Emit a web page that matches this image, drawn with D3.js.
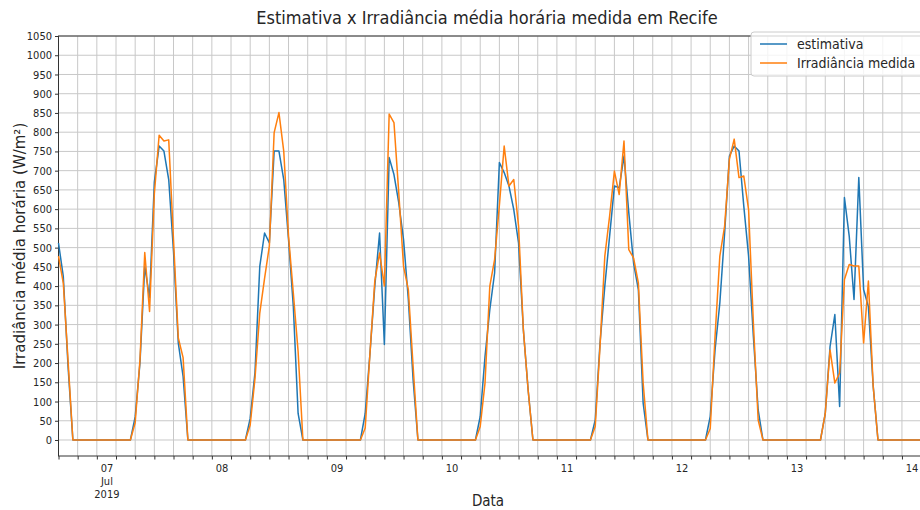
<!DOCTYPE html>
<html>
<head>
<meta charset="utf-8">
<script src="https://cdn.jsdelivr.net/npm/d3@7"></script>
<style>
  html, body { margin: 0; padding: 0; background: #fff; }
  svg { display: block; }
  text { font-family: "DejaVu Sans Condensed", "Liberation Sans Narrow", "DejaVu Sans", sans-serif; fill: #262626; }
</style>
</head>
<body>
<svg id="chart" width="920" height="510"></svg>
<script>
// ---- DATA (hourly, starting 2019-07-06 14:00) ----
const startTime = [2019, 6, 6, 14]; // year, month(0-based), day, hour
const estimativa = [
  512,425,190, 0,0,0,0,0,0,0,0,0,0,0,0,0, 60,200,451,370,670,764,751,677,
  490,252,165, 0,0,0,0,0,0,0,0,0,0,0,0,0, 56,175,451,538,512,751,751,677,
  521,347,69,  0,0,0,0,0,0,0,0,0,0,0,0,0, 69,226,400,538,248,734,690,617,
  521,365,156, 0,0,0,0,0,0,0,0,0,0,0,0,0, 61,217,339,434,721,695,660,599,
  512,287,130, 0,0,0,0,0,0,0,0,0,0,0,0,0, 52,252,400,530,660,656,738,591,
  460,391,96,  0,0,0,0,0,0,0,0,0,0,0,0,0, 61,234,356,538,738,764,751,608,
  478,269,78,  0,0,0,0,0,0,0,0,0,0,0,0,0, 69,243,326,87,630,530,365,682,
  391,347,140, 0,0,0,0,0,0,0,0,0,0,0
];
const irradianciaMedida = [
  478,408,205, 0,0,0,0,0,0,0,0,0,0,0,0,0, 45,208,487,334,640,792,777,780,
  520,265,214, 0,0,0,0,0,0,0,0,0,0,0,0,0, 39,160,330,420,504,799,851,751,
  530,382,230, 0,0,0,0,0,0,0,0,0,0,0,0,0, 31,226,413,486,400,847,825,643,
  451,391,191, 0,0,0,0,0,0,0,0,0,0,0,0,0, 35,148,400,469,610,764,660,677,
  556,287,130, 0,0,0,0,0,0,0,0,0,0,0,0,0, 35,243,478,582,699,638,777,495,
  473,408,148, 0,0,0,0,0,0,0,0,0,0,0,0,0, 30,269,478,556,730,782,682,686,
  599,304,52,  0,0,0,0,0,0,0,0,0,0,0,0,0, 69,234,148,174,417,456,452,452,
  252,413,140, 0,0,0,0,0,0,0,0,0,0,0
];
const seriesNames = ["estimativa", "Irradiância medida"];
const seriesColors = ["#1f77b4", "#ff7f0e"];
const yTicks = d3.range(0, 1051, 50);
const title = "Estimativa x Irradiância média horária medida em Recife";
const xLabel = "Data";
const yLabel = "Irradiância média horária (W/m²)";

// ---- BUILD ----
const t0 = new Date(startTime[0], startTime[1], startTime[2], startTime[3]);
const times = estimativa.map((_, i) => d3.timeHour.offset(t0, i));
const tEnd = times[times.length - 1];

const svg = d3.select("#chart");
const L = 58.5, R = 925.9, T = 36, B = 456;
const condensed = '"DejaVu Sans Condensed", "Liberation Sans Narrow", "DejaVu Sans", sans-serif';

const x = d3.scaleTime().domain([t0, tEnd]).range([L, R]);
const y = d3.scaleLinear().domain([-41.6, 1050]).range([B, T]);

const gridColor = "#c8c8c8";

// grid: 4-hour steps from the start
const hourTicks = d3.timeHour.range(t0, d3.timeHour.offset(tEnd, 1), 4);
svg.append("g").selectAll("line").data(hourTicks).join("line")
  .attr("x1", d => x(d)).attr("x2", d => x(d))
  .attr("y1", T).attr("y2", B)
  .attr("stroke", gridColor).attr("stroke-width", 1);
svg.append("g").selectAll("line").data(yTicks).join("line")
  .attr("x1", L).attr("x2", R)
  .attr("y1", d => y(d)).attr("y2", d => y(d))
  .attr("stroke", gridColor).attr("stroke-width", 1);

// y axis
const yAxis = d3.axisLeft(y).tickValues(yTicks).tickSize(3.5).tickPadding(3).tickFormat(d3.format("d"));
const gy = svg.append("g").attr("transform", `translate(${L},0)`).call(yAxis);
gy.select(".domain").remove();
gy.selectAll(".tick line").attr("stroke", "#333");
gy.selectAll("text").attr("font-size", 11).attr("fill", "#262626").style("font-family", condensed);

// x axis: minor ticks every 4 h, day labels
const xMinor = d3.axisBottom(x).tickValues(hourTicks).tickSize(3.5).tickFormat("");
const gxm = svg.append("g").attr("transform", `translate(0,${B})`).call(xMinor);
gxm.select(".domain").remove();
gxm.selectAll(".tick line").attr("stroke", "#333");

const days = d3.timeDay.range(d3.timeDay.ceil(t0), d3.timeHour.offset(tEnd, 1));
const fmtDay = d3.timeFormat("%d");
const xMajor = d3.axisBottom(x).tickValues(days).tickSize(0).tickPadding(8).tickFormat(fmtDay);
const gx = svg.append("g").attr("transform", `translate(0,${B})`).call(xMajor);
gx.select(".domain").remove();
gx.selectAll("text").attr("font-size", 11).attr("fill", "#262626").style("font-family", condensed);
gx.selectAll(".tick").filter((d, i) => i === 0).select("text").each(function (d) {
  const t = d3.select(this);
  t.append("tspan").attr("x", 0).attr("dy", "1.2em").text(d3.timeFormat("%b")(d));
  t.append("tspan").attr("x", 0).attr("dy", "1.2em").text(d3.timeFormat("%Y")(d));
});

// frame
svg.append("rect").attr("x", L).attr("y", T).attr("width", R - L).attr("height", B - T)
  .attr("fill", "none").attr("stroke", "#333").attr("stroke-width", 1);

// lines
const series = [estimativa, irradianciaMedida];
const line = d3.line().x((d, i) => x(times[i])).y(d => y(d));
series.forEach((s, k) => {
  svg.append("path").datum(s).attr("d", line)
    .attr("fill", "none").attr("stroke", seriesColors[k]).attr("stroke-width", 1.5)
    .attr("stroke-linejoin", "round");
});

// title & labels
svg.append("text").attr("x", 487).attr("y", 24).attr("text-anchor", "middle")
  .attr("font-size", 18).text(title);
svg.append("text").attr("x", 488).attr("y", 506).attr("text-anchor", "middle")
  .attr("font-size", 15).text(xLabel);
svg.append("text").attr("transform", "translate(25,246) rotate(-90)").attr("text-anchor", "middle")
  .attr("font-size", 15).style("font-family", '"DejaVu Sans", sans-serif').text(yLabel);

// legend
const lg = svg.append("g");
lg.append("rect").attr("x", 751).attr("y", 32).attr("width", 172).attr("height", 44).attr("rx", 3)
  .attr("fill", "#fff").attr("fill-opacity", 0.8).attr("stroke", "#cccccc");
seriesNames.forEach((n, k) => {
  const yy = 44 + k * 19;
  lg.append("line").attr("x1", 760).attr("x2", 787).attr("y1", yy).attr("y2", yy)
    .attr("stroke", seriesColors[k]).attr("stroke-width", 1.5);
  lg.append("text").attr("x", 797).attr("y", yy + 5).attr("font-size", 14).text(n);
});
</script>
</body>
</html>
